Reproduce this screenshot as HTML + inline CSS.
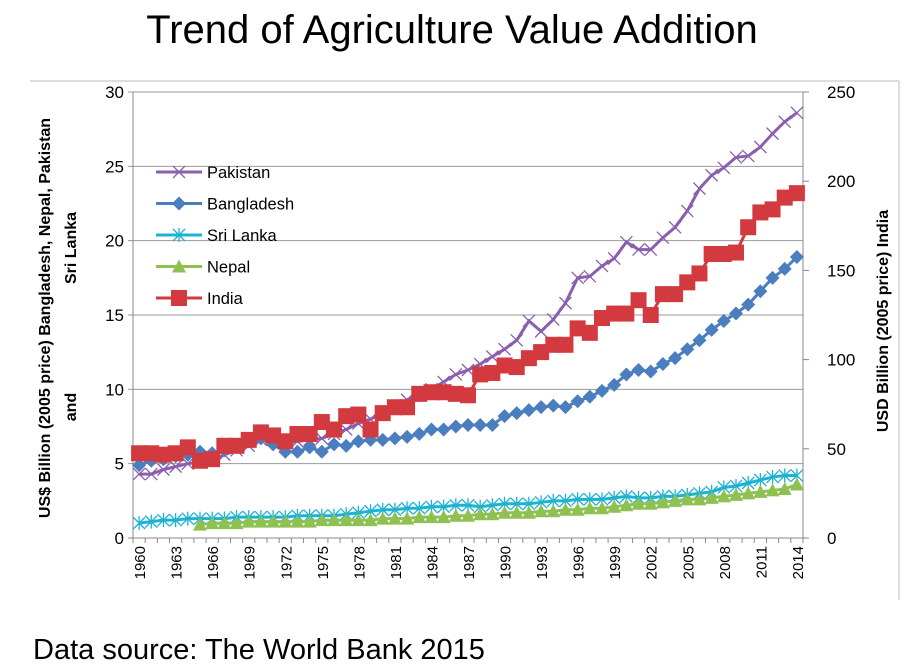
<!DOCTYPE html>
<html><head><meta charset="utf-8"><style>
body{margin:0;background:#fff;width:910px;height:665px;overflow:hidden;font-family:"Liberation Sans",Arial,sans-serif}
svg{position:absolute;left:0;top:0}
</style></head><body>
<svg id="c" width="910" height="665">
<text x="452" y="43" text-anchor="middle" font-size="40" font-family="Liberation Sans" fill="#000">Trend of Agriculture Value Addition</text>
<line x1="30" y1="81" x2="899" y2="81" stroke="#bbb" stroke-width="1"/>
<line x1="899" y1="81" x2="899" y2="600" stroke="#bbb" stroke-width="1"/>
<text x="33" y="659" font-size="29" fill="#000">Data source: The World Bank 2015</text>
<text transform="translate(50,318) rotate(-90)" text-anchor="middle" font-size="16" font-weight="bold">US$ Billion (2005 price) Bangladesh, Nepal, Pakistan</text>
<text transform="translate(76,248) rotate(-90)" text-anchor="middle" font-size="16" font-weight="bold">Sri Lanka</text>
<text transform="translate(76,407) rotate(-90)" text-anchor="middle" font-size="16" font-weight="bold">and</text>
<text transform="translate(888,321) rotate(-90)" text-anchor="middle" font-size="16" font-weight="bold">USD Billion (2005 price) India</text>
<g id="g"></g>
</svg>
<script>
const years=[];for(let y=1960;y<=2014;y++)years.push(y);
const leftTicks=[0,5,10,15,20,25,30];
const rightTicks=[0,50,100,150,200,250];
const pakistan=[4.3,4.3,4.6,4.8,5.0,5.1,5.2,5.6,5.9,6.2,6.6,6.6,6.4,6.5,6.6,6.7,7.0,7.3,7.7,8.0,8.4,8.8,9.3,9.6,10.0,10.5,11.0,11.3,11.7,12.2,12.7,13.3,14.6,13.9,14.7,15.8,17.5,17.6,18.3,18.8,19.9,19.4,19.4,20.2,20.9,22.0,23.5,24.4,24.9,25.6,25.7,26.3,27.2,28.0,28.6];
const bangladesh=[4.9,5.2,5.3,5.5,5.6,5.8,5.7,5.9,6.1,6.5,6.7,6.3,5.8,5.8,6.1,5.8,6.3,6.2,6.5,6.6,6.6,6.7,6.8,7.0,7.3,7.3,7.5,7.6,7.6,7.6,8.2,8.4,8.6,8.8,8.9,8.8,9.2,9.5,9.9,10.3,11.0,11.3,11.2,11.7,12.1,12.7,13.3,14.0,14.6,15.1,15.7,16.6,17.5,18.1,18.9];
const sriLanka=[1.0,1.1,1.2,1.2,1.3,1.3,1.3,1.3,1.4,1.4,1.4,1.4,1.4,1.5,1.5,1.5,1.5,1.6,1.7,1.8,1.9,1.9,2.0,2.0,2.1,2.1,2.2,2.2,2.1,2.2,2.3,2.3,2.3,2.4,2.5,2.5,2.6,2.6,2.6,2.7,2.8,2.7,2.7,2.8,2.8,2.9,3.0,3.1,3.4,3.5,3.7,3.9,4.1,4.2,4.2];
const nepal=[null,null,null,null,null,0.9,1.0,1.0,1.0,1.1,1.1,1.1,1.1,1.1,1.1,1.2,1.2,1.2,1.2,1.2,1.3,1.3,1.3,1.4,1.4,1.4,1.5,1.5,1.6,1.6,1.7,1.7,1.7,1.8,1.8,1.9,1.9,2.0,2.0,2.1,2.2,2.3,2.3,2.4,2.5,2.6,2.6,2.7,2.8,2.9,3.0,3.1,3.2,3.3,3.6];
const india=[47.5,47.5,46.7,47.5,50.8,43.3,44.2,51.7,51.7,55,59.2,57.5,54.2,58.3,58.3,65,60.8,68.3,69.2,60.8,70,73.3,73.3,80.8,81.7,81.7,80.8,80,91.7,92.5,96.7,95.8,100.8,104.2,108.3,108.3,117.5,115,123.3,125.8,125.8,133.3,125,136.7,136.7,143.3,148.3,159.2,159.2,160,174.2,182.5,184.2,190.8,193.3];

const X0=133,X1=803,Y0=538,Y1=92,NS="http://www.w3.org/2000/svg";
const step=(X1-X0)/years.length;
const xs=i=>X0+(i+0.5)*step;
const yl=v=>Y0-(v/30)*(Y0-Y1);
const yr=v=>Y0-(v/250)*(Y0-Y1);
const g=document.getElementById('g');
function mk(t,a){const e=document.createElementNS(NS,t);for(const k in a)e.setAttribute(k,a[k]);g.appendChild(e);return e;}

leftTicks.forEach(v=>{
  const l=mk('line',{x1:X0-5,x2:X1,y1:yl(v),y2:yl(v),stroke:v===0?'#888':'#999','stroke-width':1});
  
  
  const t=mk('text',{x:X0-9,y:yl(v)+6,'text-anchor':'end','font-size':17});
  t.textContent=v;
  
  
});
rightTicks.forEach(v=>{
  const l=mk('line',{x1:X1,x2:X1+6,y1:yr(v),y2:yr(v),stroke:'#888'});
  
  
  const t=mk('text',{x:X1+24,y:yr(v)+6,'font-size':17});
  t.textContent=v;
  
  
});
let a=mk('line',{x1:X0,x2:X0,y1:Y1,y2:Y0+5,stroke:'#888'});


a=mk('line',{x1:X1,x2:X1,y1:Y1,y2:Y0+5,stroke:'#888'});


for(let i=0;i<=years.length;i++){
  const x=X0+i*step;
  const tk=mk('line',{x1:x,x2:x,y1:Y0,y2:Y0+5,stroke:'#888'});
  
  
}
years.forEach((y,i)=>{
  if((y-1960)%3)return;
  const t=mk('text',{transform:`translate(${xs(i)+6},${Y0+8}) rotate(-90)`,'text-anchor':'end','font-size':15});
  t.textContent=y;
  
  
});

function marker(type,x,y,c){
  let e;
  if(type==='x')e=mk('path',{d:`M${x-6} ${y-6}L${x+6} ${y+6}M${x-6} ${y+6}L${x+6} ${y-6}`,stroke:c,'stroke-width':1.3,fill:'none'});
  else if(type==='d')e=mk('path',{d:`M${x} ${y-7}L${x+7} ${y}L${x} ${y+7}L${x-7} ${y}Z`,fill:c});
  else if(type==='a')e=mk('path',{d:`M${x-6} ${y-6}L${x+6} ${y+6}M${x-6} ${y+6}L${x+6} ${y-6}M${x} ${y-7}L${x} ${y+7}`,stroke:c,'stroke-width':1.3,fill:'none'});
  else if(type==='t')e=mk('path',{d:`M${x} ${y-7}L${x+7} ${y+6}L${x-7} ${y+6}Z`,fill:c});
  else e=mk('rect',{x:x-8,y:y-8,width:16,height:16,fill:c});
  return e;
}
function series(name,data,sc,c,type){
  const pts=[];data.forEach((v,i)=>{if(v!=null)pts.push([xs(i),sc(v)]);});
  const p=mk('polyline',{points:pts.map(q=>q.join(',')).join(' '),fill:'none',stroke:c,'stroke-width':3});
  
  
  pts.forEach(q=>{
    const m=marker(type,q[0],q[1],c);
    
    
  });
}
series('pakistan',pakistan,yl,'#8a5fad','x');
series('bangladesh',bangladesh,yl,'#4a7ebf','d');
series('sri-lanka',sriLanka,yl,'#1cb2d3','a');
series('nepal',nepal,yl,'#8fc152','t');
series('india',india,yr,'#d23a3f','s');

const leg=[['Pakistan','#8a5fad','x'],['Bangladesh','#4a7ebf','d'],['Sri Lanka','#1cb2d3','a'],['Nepal','#8fc152','t'],['India','#d23a3f','s']];
leg.forEach((l,i)=>{
  const y=172+i*31.5;
  const ln=mk('line',{x1:156,x2:202,y1:y,y2:y,stroke:l[1],'stroke-width':3});
  
  
  const m=marker(l[2],179,y,l[1]);
  
  
  const t=mk('text',{x:207,y:y+6,'font-size':16.5});
  t.textContent=l[0];
  
  
});
</script>
</body></html>
